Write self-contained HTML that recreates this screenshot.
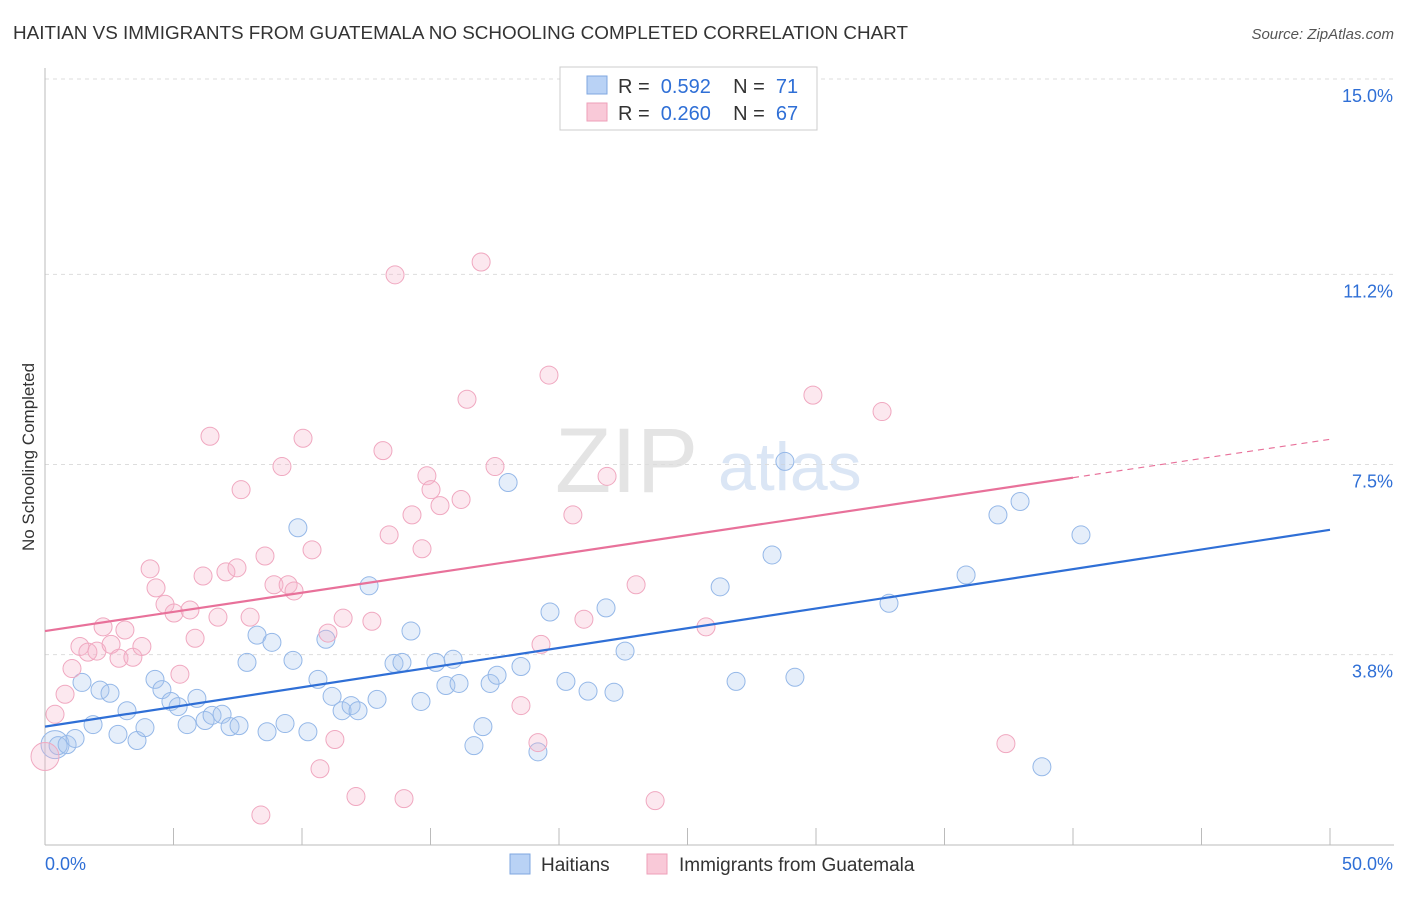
<!DOCTYPE html>
<html><head><meta charset="utf-8">
<style>
body{margin:0;background:#fff;font-family:"Liberation Sans",sans-serif;}
svg text{font-family:"Liberation Sans",sans-serif;}
</style></head>
<body>
<svg id="chart" width="1406" height="892" xmlns="http://www.w3.org/2000/svg">
<text x="13" y="39" font-size="18" fill="#333" textLength="895" lengthAdjust="spacingAndGlyphs">HAITIAN VS IMMIGRANTS FROM GUATEMALA NO SCHOOLING COMPLETED CORRELATION CHART</text>
<text x="1394" y="39" font-size="15" fill="#555" text-anchor="end" font-style="italic">Source: ZipAtlas.com</text>
<text x="555" y="492" font-size="92" fill="#e4e4e4" font-family="Liberation Serif">ZIP</text>
<text x="718" y="490" font-size="68" fill="#dbe6f5">atlas</text>
<text transform="translate(34,457) rotate(-90)" font-size="17" fill="#333" text-anchor="middle">No Schooling Completed</text>
<g id="grid"></g><g id="axes"></g><g id="marks"></g>
<g>
<rect x="560" y="67" width="257" height="63" fill="#fff" stroke="#ccc"/>
<rect x="587" y="76" width="20" height="18" fill="#b9d2f5" stroke="#7fa7e0"/>
<rect x="587" y="103" width="20" height="18" fill="#f9c9d8" stroke="#ee9fb9"/>
<text x="618" y="93" font-size="20" fill="#333" xml:space="preserve">R =  <tspan fill="#2f6fd6">0.592</tspan>    N =  <tspan fill="#2f6fd6">71</tspan></text>
<text x="618" y="120" font-size="20" fill="#333" xml:space="preserve">R =  <tspan fill="#2f6fd6">0.260</tspan>    N =  <tspan fill="#2f6fd6">67</tspan></text>
</g>
<g>
<rect x="510" y="854" width="20" height="20" fill="#b9d2f5" stroke="#7fa7e0"/>
<text x="541" y="871" font-size="19" fill="#333">Haitians</text>
<rect x="647" y="854" width="20" height="20" fill="#f9c9d8" stroke="#ee9fb9"/>
<text x="679" y="871" font-size="19" fill="#333">Immigrants from Guatemala</text>
</g>
</svg>
<script>
const yTicks=[15.0,11.2,7.5,3.8];
const yTickLabels=["15.0%","11.2%","7.5%","3.8%"];
const xTicks=[0,5,10,15,20,25,30,35,40,45,50];
const blueX=[0.39,0.51,0.86,1.17,1.44,1.87,2.14,2.53,2.84,3.19,3.58,3.89,4.28,4.55,4.90,5.18,5.53,5.91,6.23,6.50,6.89,7.20,7.55,7.86,8.25,8.64,8.83,9.34,9.65,9.84,10.23,10.62,10.93,11.17,11.56,11.91,12.18,12.61,12.92,13.58,13.89,14.24,14.63,15.21,15.60,15.88,16.11,16.69,17.04,17.32,17.59,18.02,18.52,19.18,19.65,20.27,21.13,21.83,22.14,22.57,26.27,26.89,28.29,28.79,29.18,32.84,35.84,37.08,37.94,38.79,40.31];
const blueY=[2.05,2.03,2.05,2.17,3.26,2.44,3.11,3.05,2.25,2.71,2.13,2.38,3.32,3.12,2.89,2.79,2.44,2.95,2.52,2.62,2.64,2.40,2.42,3.65,4.18,2.30,4.04,2.46,3.69,6.27,2.30,3.32,4.10,2.99,2.71,2.81,2.71,5.14,2.93,3.63,3.65,4.26,2.89,3.65,3.20,3.71,3.24,2.03,2.40,3.24,3.40,7.15,3.57,1.91,4.63,3.28,3.09,4.71,3.07,3.87,5.12,3.28,5.74,7.56,3.36,4.80,5.35,6.52,6.78,1.62,6.13];
const pinkX=[0,0.39,0.78,1.05,1.36,1.67,2.02,2.26,2.57,2.88,3.11,3.42,3.77,4.09,4.32,4.67,5.02,5.25,5.64,5.84,6.15,6.42,6.73,7.04,7.47,7.63,7.98,8.56,8.91,9.22,9.46,9.69,10.04,10.39,10.70,11.01,11.28,11.60,12.10,12.72,13.15,13.39,13.62,13.97,14.28,14.67,14.86,15.02,15.37,16.19,16.42,16.97,17.51,18.52,19.18,19.30,19.61,20.54,20.97,21.87,23.00,23.74,25.72,29.88,32.57,37.39,8.40];
const pinkY=[1.82,2.64,3.03,3.53,3.96,3.85,3.87,4.34,4.00,3.73,4.28,3.75,3.96,5.47,5.10,4.78,4.61,3.42,4.67,4.12,5.33,8.05,4.53,5.41,5.49,7.01,4.53,5.72,5.16,7.46,5.16,5.04,8.01,5.84,1.58,4.22,2.15,4.51,1.04,4.45,7.77,6.13,11.19,1.00,6.52,5.86,7.28,7.01,6.70,6.82,8.77,11.44,7.46,2.81,2.09,4.00,9.24,6.52,4.49,7.27,5.16,0.96,4.34,8.85,8.53,2.07,0.68];
const blueLine=[2.40,6.23];
const pinkLine=[4.26,7.99];
const NS="http://www.w3.org/2000/svg";
const sx=v=>45+v*1285/50;
const sy=v=>850-v*51.4;
function mk(tag,attrs,parent){const e=document.createElementNS(NS,tag);for(const k in attrs)e.setAttribute(k,attrs[k]);parent.appendChild(e);return e;}
const grid=document.getElementById('grid'),axes=document.getElementById('axes'),marks=document.getElementById('marks');
yTicks.forEach((t,i)=>{
 const l=mk('line',{x1:45,x2:1394,y1:sy(t),y2:sy(t),stroke:'#ddd','stroke-dasharray':'4,4'},grid);
 
 
 const tx=mk('text',{x:1393,y:sy(t)+23,'font-size':18,fill:'#2f6fd6','text-anchor':'end'},axes);
 tx.textContent=yTickLabels[i];
 
 
});
const ax=mk('line',{x1:45,x2:1394,y1:845,y2:845,stroke:'#bbb'},axes);


const ay=mk('line',{x1:45,x2:45,y1:68,y2:845,stroke:'#bbb'},axes);


xTicks.forEach(t=>{
 const l=mk('line',{x1:sx(t),x2:sx(t),y1:828,y2:845,stroke:'#bbb'},axes);
 
 
});
const xl0=mk('text',{x:45,y:870,'font-size':18,fill:'#2f6fd6'},axes);xl0.textContent='0.0%';


const xl1=mk('text',{x:1393,y:870,'font-size':18,fill:'#2f6fd6','text-anchor':'end'},axes);xl1.textContent='50.0%';


function pts(X,Y,fill,stroke,name){
 X.forEach((x,i)=>{
  const r=(i<1)?14:9;
  const c=mk('circle',{cx:sx(x),cy:sy(Y[i]),r:r,fill:fill,stroke:stroke,'stroke-width':1},marks);
  
  
 });
}
pts(blueX,blueY,'rgba(170,198,240,0.3)','#95b8e8','haitian-point');
pts(pinkX,pinkY,'rgba(246,178,202,0.3)','#f0a8c0','guatemala-point');
const bl=mk('line',{x1:sx(0),y1:sy(blueLine[0]),x2:sx(50),y2:sy(blueLine[1]),stroke:'#2f6fd6','stroke-width':2.2},marks);


const pAt=x=>pinkLine[0]+(pinkLine[1]-pinkLine[0])*x/50;
const pl=mk('line',{x1:sx(0),y1:sy(pAt(0)),x2:sx(40),y2:sy(pAt(40)),stroke:'#e8719a','stroke-width':2.2},marks);


const pd=mk('line',{x1:sx(40),y1:sy(pAt(40)),x2:sx(50),y2:sy(pAt(50)),stroke:'#e8719a','stroke-width':1.2,'stroke-dasharray':'6,5'},marks);


</script>
</body></html>
